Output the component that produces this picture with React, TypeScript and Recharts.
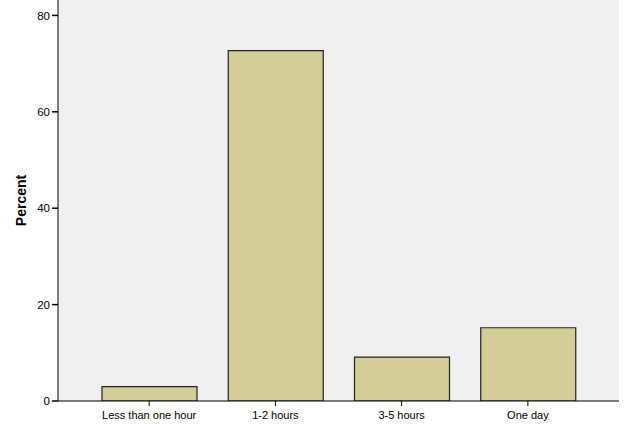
import React from 'react';
import { BarChart, Bar, XAxis, YAxis, CartesianGrid } from 'recharts';

const categories = ['Less than one hour', '1-2 hours', '3-5 hours', 'One day'];
const percents = [3.0, 72.7, 9.1, 15.2];
const yTicks = [0, 20, 40, 60, 80];

const data = categories.map((name, i) => ({ name, percent: percents[i] }));

const FONT = 'Liberation Sans, Arial, sans-serif';

export default function App() {
  return (
    <div style={{ position: 'absolute', left: 0, top: 0, width: 625, height: 427, background: '#fff' }}>
      <BarChart
        width={625}
        height={427}
        data={data}
        margin={{ top: 0, right: 6, bottom: 0, left: 0 }}
        barCategoryGap={0}
      >
        <CartesianGrid fill="#f0f0f0" stroke="none" horizontal={false} vertical={false} />
        <XAxis
          dataKey="name"
          height={26}
          padding={{ left: 28, right: 28 }}
          axisLine={{ stroke: '#000', strokeWidth: 1 }}
          tickLine={{ stroke: '#000' }}
          tickSize={5}
          tick={{ fontSize: 11, fill: '#000', fontFamily: FONT, dy: 3 }}
          interval={0}
        />
        <YAxis
          width={58}
          domain={[0, 83.2]}
          ticks={yTicks}
          allowDataOverflow
          axisLine={{ stroke: '#000', strokeWidth: 1 }}
          tickLine={{ stroke: '#000', strokeWidth: 1.5 }}
          tickSize={6}
          tick={{ fontSize: 11.5, fill: '#000', fontFamily: FONT }}
          label={{
            value: 'Percent',
            angle: -90,
            position: 'insideLeft',
            offset: 21,
            style: { fontSize: 14, fontWeight: 'bold', fill: '#000', fontFamily: FONT, textAnchor: 'middle' },
          }}
        />
        <YAxis
          yAxisId="r"
          orientation="right"
          width={0}
          tick={false}
          tickLine={false}
          axisLine={{ stroke: '#333', strokeWidth: 1.5 }}
        />
        <Bar
          dataKey="percent"
          fill="#d3ce97"
          stroke="#222"
          strokeWidth={1.2}
          barSize={95}
          isAnimationActive={false}
        />
      </BarChart>
    </div>
  );
}
